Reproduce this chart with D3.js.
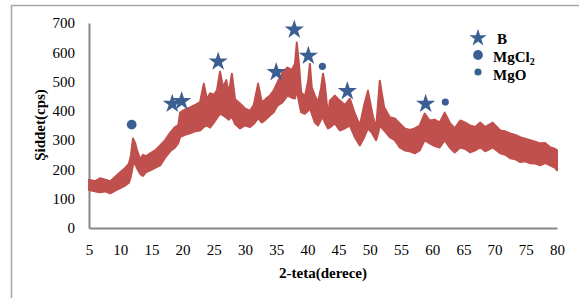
<!DOCTYPE html>
<html>
<head>
<meta charset="utf-8">
<script src="https://cdnjs.cloudflare.com/ajax/libs/d3/7.8.5/d3.min.js"></script>
<style>
  body { margin: 0; background: #fff; }
  text { font-family: "Liberation Serif", "Times New Roman", serif; }
</style>
</head>
<body>
<svg id="chart" width="579" height="298"></svg>
<script>
// 2-teta values and the upper / lower edge of the noisy trace
var teta = [5.0, 6.0, 6.8, 7.6, 8.4, 9.2, 10.0, 10.8, 11.4, 11.7, 12.05, 12.4, 12.7, 13.2, 13.65, 14.1, 14.8, 15.6, 16.4, 17.2,
  18.0, 18.8, 19.3, 19.6, 20.4, 21.2, 22.0, 22.8, 23.4, 23.9, 24.4, 25.0, 25.5, 26.0, 26.5, 27.0, 27.4, 27.9, 28.4, 29.2,
  30.0, 30.8, 31.4, 32.1, 32.7, 33.3, 34.0, 34.6, 35.2, 36.0, 36.8, 37.5, 38.0, 38.3, 38.65, 39.0, 39.6, 40.1, 40.4, 40.7,
  41.2, 41.7, 42.2, 42.5, 42.8, 43.3, 43.6, 44.4, 45.2, 46.0, 46.8, 47.6, 48.4, 49.1, 49.7, 50.4, 51.0, 51.3, 51.6, 52.3,
  53.2, 54.0, 54.8, 55.6, 56.4, 57.2, 58.0, 58.8, 59.6, 60.4, 61.2, 62.0, 62.8, 63.6, 64.5, 65.3, 66.1, 66.9, 67.7, 68.5,
  69.3, 69.7, 70.9, 71.7, 72.5, 73.3, 74.1, 74.9, 75.7, 76.5, 77.3, 78.1, 78.9, 79.7, 80.0];
var ustSinir = [165, 160, 170, 165, 160, 175, 190, 205, 220, 245, 306, 290, 265, 235, 250, 245, 255, 265, 282, 300,
  325, 345, 350, 394, 405, 412, 420, 430, 493, 440, 460, 455, 470, 534, 480, 505, 460, 527, 440, 425,
  408, 400, 420, 493, 429, 440, 452, 470, 497, 530, 548, 540, 560, 633, 560, 463, 450, 500, 561, 480,
  452, 429, 480, 527, 490, 384, 435, 452, 435, 420, 442, 391, 350, 420, 469, 391, 340, 420, 503, 412,
  378, 374, 357, 340, 335, 340, 350, 391, 367, 370, 360, 394, 360, 340, 367, 360, 350, 345, 360, 345,
  355, 360, 333, 330, 323, 318, 310, 305, 300, 295, 289, 290, 276, 270, 265];
var altSinir = [130, 125, 122, 125, 118, 128, 136, 145, 155, 175, 215, 220, 204, 185, 178, 190, 197, 205, 214, 240,
  262, 275, 290, 310, 318, 323, 330, 333, 345, 350, 343, 360, 375, 390, 385, 377, 370, 380, 355, 340,
  350, 345, 355, 375, 360, 370, 384, 395, 418, 429, 452, 445, 442, 470, 430, 395, 390, 400, 410, 390,
  360, 350, 370, 380, 360, 340, 343, 357, 333, 340, 350, 310, 282, 310, 340, 323, 300, 320, 350, 333,
  310, 300, 275, 265, 262, 255, 265, 300, 289, 280, 275, 300, 275, 258, 275, 270, 258, 265, 275, 262,
  270, 275, 255, 250, 238, 235, 225, 228, 221, 220, 214, 222, 214, 205, 197];

// phase markers
var bX = [18.35, 19.85, 25.7, 35.0, 37.9, 40.15, 46.4, 58.95];
var bY = [424, 433, 568, 532, 677, 588, 467, 424];
var mgcl2X = [11.84];
var mgcl2Y = [353];
var mgoX = [42.4, 62.1];
var mgoY = [552, 430];

var xTicks = d3.range(5, 81, 5);
var yTicks = d3.range(0, 701, 100);
var legendNames = ["B", "MgCl", "MgO"];

var svg = d3.select("#chart");
var blue = "#3b5f92", red = "#c0504d", gray = "#868686";

svg.append("rect").attr("x", 11.5).attr("y", 5.5).attr("width", 620).attr("height", 400)
  .attr("fill", "none").attr("stroke", "#a6a6a6").attr("stroke-width", 1.5);

var x = d3.scaleLinear().domain([5, 80]).range([89, 557]);
var y = d3.scaleLinear().domain([0, 700]).range([228, 23]);

// y axis
var yAx = svg.append("g").attr("transform", "translate(89,0)")
  .call(d3.axisLeft(y).tickValues(yTicks).tickSize(0).tickPadding(14));
yAx.select(".domain").attr("stroke", gray).attr("stroke-width", 2);
yAx.selectAll("text").attr("font-size", 15).attr("fill", "#000")
  .style("font-family", "Liberation Serif");

// x axis
var xAx = svg.append("g").attr("transform", "translate(0,228)")
  .call(d3.axisBottom(x).tickValues(xTicks).tickSize(0).tickPadding(16));
xAx.select(".domain").attr("stroke", gray).attr("stroke-width", 2);
xAx.selectAll("text").attr("font-size", 15).attr("fill", "#000")
  .style("font-family", "Liberation Serif");

// trace
var band = d3.area()
  .x(function(d, i) { return x(teta[i]); })
  .y0(function(d, i) { return y(altSinir[i]); })
  .y1(function(d, i) { return y(ustSinir[i]); });
svg.append("path").datum(teta).attr("d", band)
  .attr("fill", red).attr("stroke", red).attr("stroke-width", 2).attr("stroke-linejoin", "round");

// markers
var star = d3.symbol().type(d3.symbolStar).size(115);
svg.selectAll("path.b").data(bX).enter().append("path").attr("class", "b")
  .attr("d", star)
  .attr("transform", function(d, i) { return "translate(" + x(d) + "," + y(bY[i]) + ")"; })
  .attr("fill", blue);

var octa = d3.symbol().type(d3.symbolCircle).size(75);
svg.selectAll("path.mgcl2").data(mgcl2X).enter().append("path").attr("class", "mgcl2")
  .attr("d", octa)
  .attr("transform", function(d, i) { return "translate(" + x(d) + "," + y(mgcl2Y[i]) + ")"; })
  .attr("fill", blue);

svg.selectAll("circle.mgo").data(mgoX).enter().append("circle").attr("class", "mgo")
  .attr("cx", function(d) { return x(d); })
  .attr("cy", function(d, i) { return y(mgoY[i]); })
  .attr("r", 3.6).attr("fill", blue);

// legend
var lg = svg.append("g");
lg.append("path").attr("d", d3.symbol().type(d3.symbolStar).size(95))
  .attr("transform", "translate(478,38)").attr("fill", blue);
lg.append("path").attr("d", d3.symbol().type(d3.symbolCircle).size(75))
  .attr("transform", "translate(478,55)").attr("fill", blue);
lg.append("circle").attr("cx", 478).attr("cy", 72).attr("r", 3.6).attr("fill", blue);

lg.append("text").attr("x", 497).attr("y", 44).attr("font-size", 15).attr("font-weight", "bold")
  .text(legendNames[0]);
var t2 = lg.append("text").attr("x", 493).attr("y", 62).attr("font-size", 15).attr("font-weight", "bold");
t2.append("tspan").text(legendNames[1]);
t2.append("tspan").attr("font-size", 10).attr("dy", 3).text("2");
lg.append("text").attr("x", 493).attr("y", 80).attr("font-size", 15).attr("font-weight", "bold")
  .text(legendNames[2]);

// axis titles
svg.append("text").attr("x", 323).attr("y", 278).attr("text-anchor", "middle")
  .attr("font-size", 15).attr("font-weight", "bold").text("2-teta(derece)");
svg.append("text").attr("transform", "translate(45,125) rotate(-90)").attr("text-anchor", "middle")
  .attr("font-size", 15).attr("font-weight", "bold").text("Şiddet(cps)");
</script>
</body>
</html>
